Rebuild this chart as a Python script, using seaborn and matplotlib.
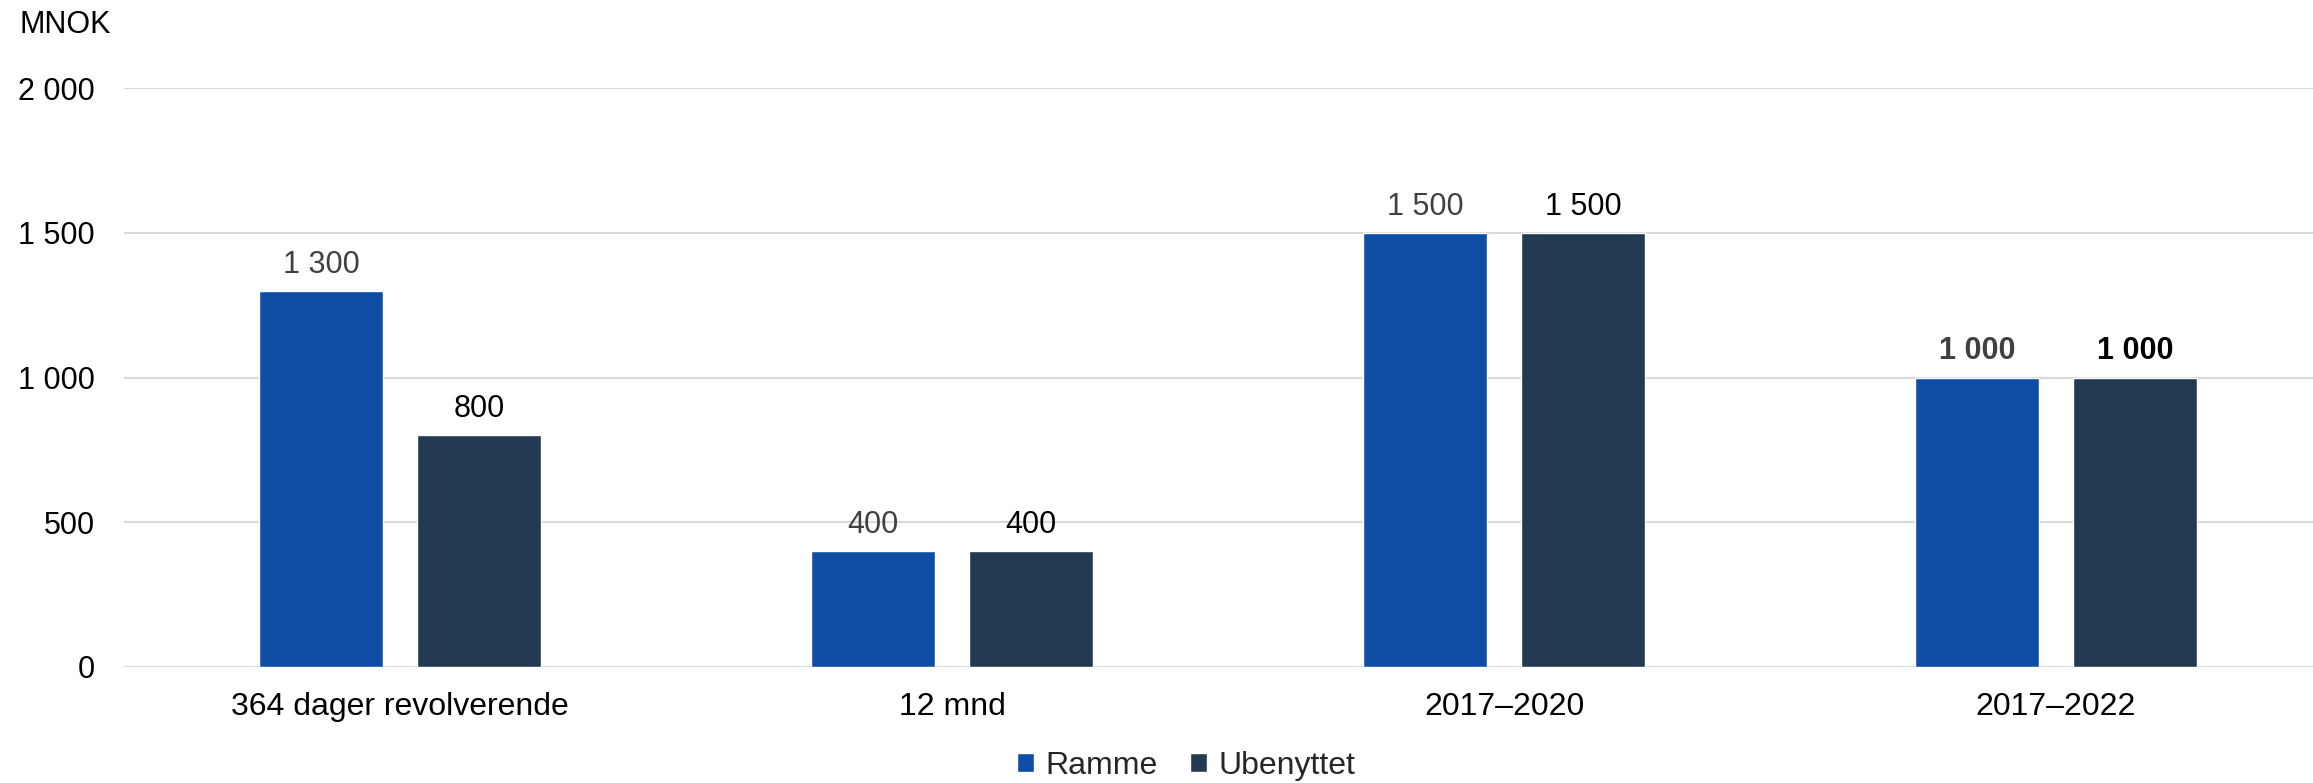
import matplotlib
matplotlib.use("Agg")
import matplotlib.pyplot as plt
import seaborn as sns
import pandas as pd
from matplotlib.ticker import FuncFormatter

categories = ["364 dager revolverende", "12 mnd", "2017–2020", "2017–2022"]
ramme = [1300, 400, 1500, 1000]
ubenyttet = [800, 400, 1500, 1000]
series_names = ["Ramme", "Ubenyttet"]
y_ticks = [0, 500, 1000, 1500, 2000]
y_unit = "MNOK"

df = pd.DataFrame({
    "kategori": categories * 2,
    "verdi": ramme + ubenyttet,
    "serie": [series_names[0]] * len(categories) + [series_names[1]] * len(categories),
})

sns.set_theme(style="white")
plt.rcParams["font.family"] = ["Liberation Sans", "DejaVu Sans"]

fig = plt.figure(figsize=(23.13, 7.83), dpi=100)
ax = fig.add_axes([124 / 2313, 1 - 667 / 783, 2208 / 2313, (667 - 88) / 783])

palette = {"Ramme": "#0E4EA5", "Ubenyttet": "#223A52"}
sns.barplot(data=df, x="kategori", y="verdi", hue="serie", palette=palette,
            width=0.572, gap=0.215, ax=ax, saturation=1, legend=True, errorbar=None)

ax.set_xlim(-0.5, len(categories) - 0.5)
ax.set_ylim(0, 2000)
ax.set_yticks(y_ticks)
fmt = lambda v, pos=None: f"{v:,.0f}".replace(",", " ")
ax.yaxis.set_major_formatter(FuncFormatter(fmt))
ax.grid(axis="y", color="#d9d9d9", linewidth=1.5)
ax.set_axisbelow(True)
for s in ax.spines.values():
    s.set_visible(False)
ax.tick_params(axis="y", length=0, pad=21, labelsize=22, labelcolor="black")
ax.tick_params(axis="x", length=0, pad=18, labelsize=23, labelcolor="black")
ax.set_xlabel("")
ax.set_ylabel("")

label_colors = ["#404040", "black"]
for i, cont in enumerate(ax.containers):
    texts = ax.bar_label(cont, labels=[fmt(v) for v in cont.datavalues],
                         padding=8, fontsize=22, color=label_colors[i])
    texts[3].set_fontweight("bold")

fig.text(19 / 2313, 1 - 25 / 783, y_unit, fontsize=22, va="center", ha="left", color="black")

handles, labels = ax.get_legend_handles_labels()
ax.legend_.remove()
fig.legend(handles, labels, loc="center", bbox_to_anchor=(1186 / 2313, 1 - 766 / 783),
           ncol=2, frameon=False, fontsize=23, handlelength=0.55, handleheight=0.55,
           handletextpad=0.35, columnspacing=1.0, borderpad=0)

fig.savefig("out.png", dpi=100)
